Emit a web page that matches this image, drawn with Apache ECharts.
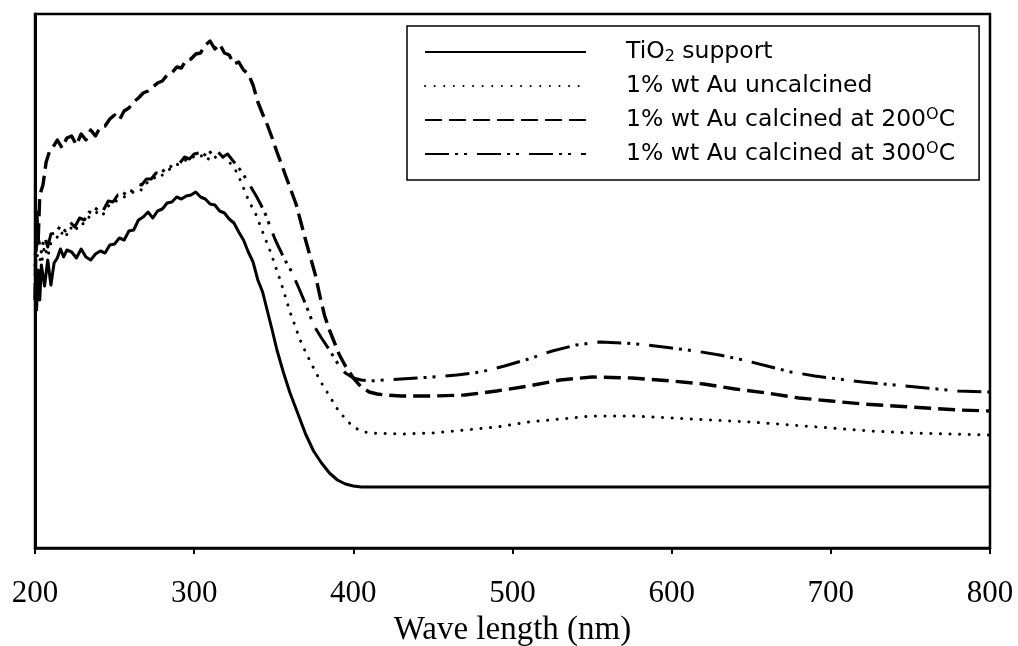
<!DOCTYPE html>
<html>
<head>
<meta charset="utf-8">
<script src="https://cdn.jsdelivr.net/npm/echarts@6/dist/echarts.min.js"></script>
<style>
  html, body { margin: 0; padding: 0; background: #fff; }
  #chart { width: 1018px; height: 646px; }
</style>
</head>
<body>
<div id="chart"></div>
<script>
// UV-Vis spectra, absorbance in arbitrary units
const seriesNames = ['TiO2 support', '1% wt Au uncalcined', '1% wt Au calcined at 200°C', '1% wt Au calcined at 300°C']
const xTicks = [200, 300, 400, 500, 600, 700, 800]

const wlTiO2 = [200, 201, 202, 203, 204, 206, 208, 210, 212, 214, 216, 218, 220,
  223, 226, 229, 232, 235, 238, 241, 244, 247, 250, 253, 256, 259, 262, 265, 268, 271, 274, 277, 280,
  283, 286, 289, 292, 295, 298, 301, 304, 307, 310, 313, 316, 319, 322, 325, 328, 331, 334, 337, 340,
  343, 346, 349, 352, 356, 360, 365, 370, 375, 380, 385, 390, 395, 400, 405,
  450, 500, 550, 600, 650, 700, 750, 800]
const absTiO2 = [2.53, 2.38, 2.78, 2.48, 2.83, 2.62, 2.88, 2.63, 2.85, 2.90, 2.99, 2.91, 2.98,
  2.96, 2.90, 2.99, 2.91, 2.88, 2.94, 2.97, 2.95, 3.03, 3.04, 3.10, 3.08, 3.17, 3.18, 3.28, 3.31, 3.36, 3.30, 3.37, 3.39,
  3.45, 3.46, 3.51, 3.49, 3.52, 3.53, 3.56, 3.51, 3.49, 3.44, 3.43, 3.37, 3.35, 3.29, 3.25, 3.16, 3.08, 2.96, 2.86, 2.68,
  2.56, 2.37, 2.18, 1.98, 1.76, 1.56, 1.35, 1.14, 0.97, 0.85, 0.75, 0.68, 0.64, 0.62, 0.61,
  0.61, 0.61, 0.61, 0.61, 0.61, 0.61, 0.61, 0.61]

const wlUncal = [200, 202, 204, 206, 208, 210,
  213, 216, 219, 222, 225, 228, 231, 234, 237, 240, 243, 246, 249, 252, 255, 258, 261, 264, 267,
  270, 273, 276, 279, 282, 285, 288, 291, 294, 297, 300, 303, 306, 309, 312, 315, 318, 321, 324,
  327, 330, 333, 336, 339, 342, 345, 348, 351, 354, 357, 360, 363, 366,
  370, 375, 380, 385, 390, 395, 400, 405, 410,
  430, 450, 470, 490, 510, 530, 550, 575, 600, 625, 650, 675, 700, 725, 750, 775, 800]
const absUncal = [2.83, 2.95, 2.84, 3.02, 2.91, 3.05,
  3.08, 3.17, 3.10, 3.21, 3.16, 3.25, 3.24, 3.31, 3.32, 3.38, 3.34, 3.42, 3.43, 3.49, 3.50, 3.53, 3.55, 3.59, 3.58,
  3.65, 3.66, 3.72, 3.71, 3.77, 3.79, 3.83, 3.84, 3.88, 3.87, 3.92, 3.90, 3.94, 3.89, 3.93, 3.88, 3.91, 3.87, 3.83,
  3.75, 3.64, 3.52, 3.42, 3.33, 3.20, 3.08, 2.96, 2.82, 2.68, 2.53, 2.37, 2.24, 2.10,
  1.96, 1.80, 1.65, 1.52, 1.39, 1.29, 1.21, 1.17, 1.15,
  1.14, 1.15, 1.18, 1.21, 1.26, 1.29, 1.32, 1.32, 1.30, 1.28, 1.26, 1.23, 1.20, 1.17, 1.15, 1.14, 1.13]

const wlCal200 = [200, 201, 202, 203, 205, 207, 209, 211,
  214, 217, 220, 223, 226, 229, 232, 235, 238, 241, 244, 247, 250, 253, 256, 259, 262, 265, 268, 271,
  274, 277, 280, 283, 286, 289, 292, 295, 298, 301, 304, 307, 310, 313, 316, 319, 322, 325, 328, 331,
  334, 337, 340, 343, 346, 349, 352, 355, 358, 361, 364, 367, 370, 373, 376, 379, 382, 385, 388, 391,
  395, 400, 405, 410, 415, 420,
  430, 450, 470, 490, 510, 530, 550, 575, 600, 620, 640, 660, 680, 700, 720, 740, 760, 780, 800]
const absCal200 = [2.48, 3.38, 3.08, 3.53, 3.63, 3.86, 3.96, 4.00,
  4.08, 4.00, 4.10, 4.12, 4.03, 4.14, 4.08, 4.18, 4.12, 4.21, 4.22, 4.29, 4.33, 4.28, 4.37, 4.40, 4.46, 4.50, 4.55, 4.57,
  4.61, 4.65, 4.67, 4.73, 4.75, 4.81, 4.80, 4.88, 4.89, 4.94, 4.95, 5.03, 5.07, 4.99, 5.04, 4.95, 4.93, 4.84, 4.86, 4.78,
  4.74, 4.63, 4.46, 4.34, 4.23, 4.10, 3.96, 3.83, 3.70, 3.57, 3.44, 3.26, 3.08, 2.91, 2.74, 2.52, 2.32, 2.18, 2.06, 1.94,
  1.82, 1.70, 1.61, 1.56, 1.54, 1.53,
  1.52, 1.52, 1.53, 1.57, 1.62, 1.68, 1.71, 1.70, 1.67, 1.64, 1.59, 1.55, 1.50, 1.47, 1.44, 1.42, 1.40, 1.38, 1.37]

const wlCal300 = [200, 202, 204, 206, 208, 210,
  213, 216, 219, 222, 225, 228, 231, 234, 237, 240, 243, 246, 249, 252, 255, 258, 261, 264, 267,
  270, 273, 276, 279, 282, 285, 288, 291, 294, 297, 300, 303, 306, 309, 312, 315, 318, 321, 324,
  327, 330, 333, 336, 339, 342, 345, 348, 351, 354, 357, 360, 363, 366,
  370, 375, 380, 385, 390, 395, 400, 405, 410,
  420, 430, 440, 450, 465, 480, 495, 510, 525, 540, 555, 570, 585, 600, 615, 630, 645, 660, 675,
  690, 705, 720, 740, 760, 780, 800]
const absCal300 = [2.93, 3.10, 2.96, 3.12, 3.01, 3.14,
  3.15, 3.22, 3.17, 3.26, 3.21, 3.30, 3.28, 3.36, 3.35, 3.43, 3.38, 3.47, 3.46, 3.53, 3.52, 3.58, 3.57, 3.64, 3.63,
  3.69, 3.69, 3.75, 3.74, 3.80, 3.81, 3.86, 3.85, 3.91, 3.89, 3.94, 3.95, 3.92, 3.98, 3.92, 3.96, 3.91, 3.94, 3.88,
  3.82, 3.76, 3.68, 3.60, 3.52, 3.43, 3.33, 3.20, 3.08, 2.98, 2.88, 2.80, 2.70, 2.59,
  2.44, 2.23, 2.10, 1.98, 1.85, 1.75, 1.70, 1.68, 1.67,
  1.68, 1.69, 1.70, 1.71, 1.73, 1.76, 1.82, 1.89, 1.97, 2.03, 2.06, 2.05, 2.03, 2.00, 1.97, 1.93, 1.88, 1.82, 1.76,
  1.72, 1.69, 1.66, 1.63, 1.60, 1.57, 1.56]

const pairs = (xs, ys) => xs.map((x, i) => [x, ys[i]])

const chart = echarts.init(document.getElementById('chart'), null, { renderer: 'canvas' })

// line looks: solid, dots, dashes, dash-dot-dot
const lineLooks = [
  { width: 3, type: 'solid' },
  { width: 3, type: [0.1, 9.5], cap: 'round' },
  { width: 3.4, type: [17, 7] },
  { width: 3, type: [24, 6, 3, 6, 3, 10] }
]
const datasets = [pairs(wlTiO2, absTiO2), pairs(wlUncal, absUncal), pairs(wlCal200, absCal200), pairs(wlCal300, absCal300)]

const option = {
  animation: false,
  backgroundColor: '#fff',
  grid: {
    left: 35, right: 28, top: 14, bottom: 98,
    outerBoundsMode: 'none',
    show: true, borderColor: '#000', borderWidth: 2.5, backgroundColor: 'transparent'
  },
  legend: {
    orient: 'vertical',
    left: 407, top: 26,
    padding: [13, 24, 13, 17],
    borderColor: '#000', borderWidth: 1.5,
    itemWidth: 161, itemHeight: 26, itemGap: 8,
    selectedMode: false,
    itemStyle: { color: 'transparent', borderWidth: 0, opacity: 0 },
    data: seriesNames,
    formatter: name => name.replace('TiO2', 'TiO{sub|2}').replace('°C', '{sup|O}C'),
    textStyle: {
      fontFamily: 'DejaVu Sans', fontSize: 23.5, color: '#000', lineHeight: 26,
      padding: [0, 0, 0, 35],
      rich: {
        sub: { fontFamily: 'DejaVu Sans', fontSize: 16, lineHeight: 16, verticalAlign: 'bottom', color: '#000' },
        sup: { fontFamily: 'DejaVu Sans', fontSize: 16, lineHeight: 16, verticalAlign: 'top', color: '#000' }
      }
    }
  },
  xAxis: {
    type: 'value',
    min: 200, max: 800, interval: 100,
    name: 'Wave length (nm)',
    nameLocation: 'middle',
    nameGap: 65,
    nameTextStyle: { fontFamily: 'Liberation Serif', fontSize: 33, color: '#000' },
    axisLine: { show: true, lineStyle: { color: '#000', width: 2.5 } },
    axisTick: { show: true, inside: false, length: 6, lineStyle: { color: '#000', width: 2 } },
    axisLabel: {
      show: true, margin: 30,
      fontFamily: 'Liberation Serif', fontSize: 31, color: '#000',
      showMinLabel: true, showMaxLabel: true,
      customValues: xTicks
    },
    splitLine: { show: false }
  },
  yAxis: {
    type: 'value',
    min: 0, max: 5.34,
    axisLine: { show: true, lineStyle: { color: '#000', width: 3 } },
    axisTick: { show: false },
    axisLabel: { show: false },
    splitLine: { show: false }
  },
  series: seriesNames.map((name, i) => ({
    name: name,
    type: 'line',
    data: datasets[i],
    symbol: 'none',
    showSymbol: false,
    smooth: false,
    color: '#000',
    lineStyle: Object.assign({ color: '#000', join: 'round' }, lineLooks[i]),
    z: 2 + i
  }))
}

chart.setOption(option)
</script>
</body>
</html>
